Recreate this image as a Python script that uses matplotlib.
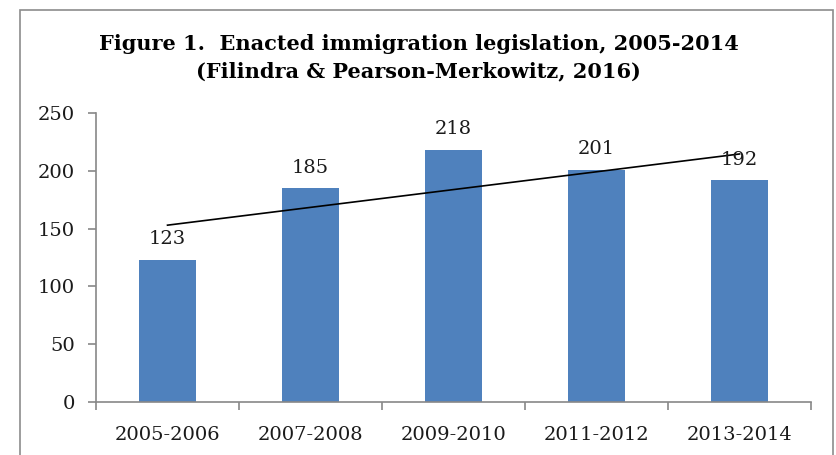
import matplotlib
matplotlib.use('Agg')
import matplotlib.pyplot as plt
import numpy as np

# Data
periods = ['2005-2006', '2007-2008', '2009-2010', '2011-2012', '2013-2014']
laws = [123, 185, 218, 201, 192]
yticks = [0, 50, 100, 150, 200, 250]

title = ('Figure 1.  Enacted immigration legislation, 2005-2014\n'
         '(Filindra & Pearson-Merkowitz, 2016)')

plt.rcParams['font.family'] = ['DejaVu Serif']

fig = plt.figure(figsize=(8.37, 4.55), dpi=100)
ax = fig.add_axes([0.1147, 0.1165, 0.969 - 0.1147, 0.635])

x = np.arange(len(periods))
ax.bar(x, laws, width=0.4, color='#4F81BD', zorder=2)
for xi, v in zip(x, laws):
    ax.text(xi, v + 10, str(v), ha='center', va='bottom', fontsize=14,
            color='#1a1a1a', zorder=4)

# linear trendline
k, b = np.polyfit(x, laws, 1)
ax.plot([x[0], x[-1]], [b, k * x[-1] + b], color='k', lw=1.2, zorder=3)

ax.set_xlim(-0.5, len(periods) - 0.5)
ax.set_ylim(0, 250)
ax.set_yticks(yticks)
ax.set_xticks(np.arange(-0.5, len(periods)), labels=[])
ax.set_xticks(x, labels=periods, minor=True)
ax.tick_params(axis='x', which='minor', length=0, labelsize=14, pad=17,
               labelcolor='#1a1a1a')
ax.tick_params(axis='x', which='major', length=6, color='#888888', width=1.2)
ax.tick_params(axis='y', length=6, color='#888888', width=1.2, labelsize=14,
               labelcolor='#1a1a1a', pad=9)
for s in ('top', 'right'):
    ax.spines[s].set_visible(False)
for s in ('left', 'bottom'):
    ax.spines[s].set_color('#888888')
    ax.spines[s].set_linewidth(1.2)

fig.text(0.5, (455 - 58) / 455, title, ha='center', va='center', fontsize=15,
         fontweight='bold', linespacing=1.45)

# outer frame
frame = matplotlib.patches.Rectangle((20 / 837, -0.1), (833 - 20) / 837,
                                     (455 - 10) / 455 + 0.1,
                                     transform=fig.transFigure, fill=False,
                                     edgecolor='#8c8c8c', lw=1.2)
fig.patches.append(frame)

fig.savefig('out.png', dpi=100)
